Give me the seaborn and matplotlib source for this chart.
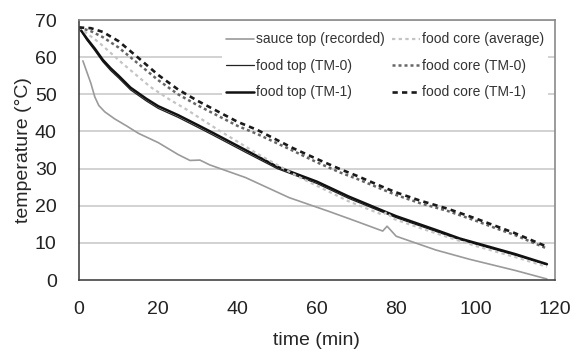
import matplotlib
matplotlib.use("Agg")
import matplotlib.pyplot as plt
import seaborn as sns
import numpy as np
from matplotlib.ticker import MultipleLocator

# ---- data ----
sauce_t = [1, 2, 3, 4, 5, 6.5, 9, 12, 15, 20, 25, 28, 30.5, 33, 42, 53, 63, 70, 76.6, 77.7, 80, 90, 98.5, 110, 118]
sauce_v = [59, 56, 53, 49.3, 47, 45.3, 43.4, 41.5, 39.5, 37, 33.8, 32.2, 32.3, 31, 27.6, 22.2, 18.5, 15.8, 13.2, 14.5, 11.8, 8.1, 5.6, 2.6, 0.3]

top_t = [0, 2, 4, 6, 8, 10, 13, 17, 20, 25, 30, 34, 42, 50, 60, 68, 77, 80, 90, 96, 100, 110, 118]
top_tm1 = [68, 65, 62.3, 59.3, 57, 55, 51.8, 48.8, 46.8, 44.4, 41.7, 39.5, 35, 30.5, 26.5, 22.5, 18.5, 17.2, 13.5, 11.2, 10, 7, 4.3]
top_tm0 = [68, 64.6, 61.8, 58.8, 56.4, 54.4, 51.2, 48.2, 46.2, 43.8, 41.1, 38.9, 34.4, 30.0, 26.0, 22.0, 18.1, 16.8, 13.1, 10.9, 9.7, 6.7, 4.1]

core_t = [0, 3, 6, 10, 15, 20, 25, 30, 40, 45, 54, 60, 66, 70, 77, 80, 86, 93, 100, 105, 110, 118]
core_tm1 = [68, 67.8, 66.8, 64.3, 59.8, 55.2, 51.3, 48.2, 42.6, 40.4, 35.5, 32.6, 29.8, 28.1, 24.9, 23.6, 21.4, 19.2, 16.6, 14.6, 12.6, 9.0]
core_tm0 = [68, 67.0, 65.4, 62.6, 58.2, 53.8, 50.0, 47.0, 41.5, 39.3, 34.8, 31.7, 28.9, 27.3, 24.2, 22.9, 20.7, 18.6, 16.0, 14.0, 12.1, 8.5]

avg_t = [0, 5, 11, 18, 23, 27, 35, 45, 55, 68, 76.5, 77.7, 79, 85, 90, 100, 110, 118]
avg_v = [68, 64, 58.3, 52, 48.5, 46, 40.5, 34, 28, 21.2, 17.6, 18.3, 16.6, 14.4, 12.6, 9.2, 6.2, 3.6]

x_ticks = [0, 20, 40, 60, 80, 100, 120]
y_ticks = [0, 10, 20, 30, 40, 50, 60, 70]

# ---- plot ----
sns.set_style("white")
plt.rcParams['font.family'] = ['Liberation Sans', 'DejaVu Sans']

fig = plt.figure(figsize=(5.72, 3.51), dpi=100)
ax = fig.add_axes([0.138, 0.202, 0.832, 0.741])

for y in y_ticks[1:]:
    ax.axhline(y, color='#cfcfcf', lw=1.3, zorder=0)

sns.lineplot(x=sauce_t, y=sauce_v, ax=ax, color='#9a9a9a', lw=1.2, label='sauce top (recorded)', sort=False)
sns.lineplot(x=top_t, y=top_tm0, ax=ax, color='#222222', lw=0.9, label='food top (TM-0)', sort=False)
sns.lineplot(x=top_t, y=top_tm1, ax=ax, color='#111111', lw=1.8, label='food top (TM-1)', sort=False)
sns.lineplot(x=avg_t, y=avg_v, ax=ax, color='#c4c4c4', lw=1.6, label='food core (average)', sort=False)
sns.lineplot(x=core_t, y=core_tm0, ax=ax, color='#666666', lw=1.8, label='food core (TM-0)', sort=False)
sns.lineplot(x=core_t, y=core_tm1, ax=ax, color='#1a1a1a', lw=1.9, label='food core (TM-1)', sort=False)

lines_by_label = {ln.get_label(): ln for ln in ax.get_lines()}
lines_by_label['food core (average)'].set_dashes((1.5, 1.5))
lines_by_label['food core (TM-0)'].set_dashes((1.2, 1.2))
lines_by_label['food core (TM-1)'].set_dashes((2.0, 1.6))

ax.set_xlim(0, 120)
ax.set_ylim(0, 70)
ax.set_xticks(x_ticks)
ax.set_yticks(y_ticks)
ax.xaxis.set_minor_locator(MultipleLocator(5))
ax.yaxis.set_minor_locator(MultipleLocator(5))
ax.tick_params(axis='both', which='major', labelsize=14, colors='#222222', length=5, width=1)
ax.tick_params(axis='x', which='major', direction='inout', length=8, pad=11)
ax.tick_params(axis='x', which='minor', direction='out', length=4, width=1, color='#444444')
ax.tick_params(axis='y', which='major', direction='out', length=5, pad=11)
ax.tick_params(axis='y', which='minor', direction='in', length=3, width=1, color='#444444')

ax.set_xlabel('time (min)', fontsize=14, labelpad=10)
ax.set_ylabel('temperature (°C)', fontsize=14, labelpad=2)

for side in ['left', 'bottom']:
    ax.spines[side].set_color('#444444')
    ax.spines[side].set_linewidth(1.2)
for side in ['right', 'top']:
    ax.spines[side].set_color('#8a8a8a')
    ax.spines[side].set_linewidth(1.2)

leg = ax.legend(loc='upper right', bbox_to_anchor=(1.0, 0.995), ncol=2, fontsize=10,
                frameon=True, facecolor='white', edgecolor='none', framealpha=1,
                handlelength=2.0, handletextpad=0.15, columnspacing=0.5,
                labelspacing=0.9, borderpad=0.3, fancybox=False)
for t in leg.get_texts():
    t.set_color('#333333')

fig.savefig('out.png', dpi=100)
